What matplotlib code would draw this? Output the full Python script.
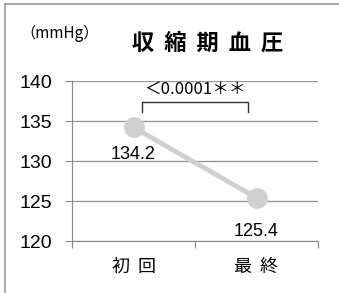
import matplotlib
matplotlib.use("Agg")
import matplotlib.pyplot as plt
from matplotlib.lines import Line2D

plt.rcParams['font.family'] = ['Noto Sans CJK JP', 'DejaVu Sans']

categories = ["初  回", "最  終"]
values = [134.2, 125.4]
yticks = [120, 125, 130, 135, 140]
title = "収  縮  期  血  圧"
unit = "（mmHg）"
pvalue = "＜0.0001＊＊"

num_font = ['Liberation Sans', 'DejaVu Sans']

fig = plt.figure(figsize=(3.39, 2.93), dpi=100)
ax = fig.add_axes([72/339, 1-241/293, 246/339, 160/293])

x = [0, 1]
ax.plot(x, values, color="#d0d0d0", lw=3.5, marker="o", ms=14, zorder=3)
ax.set_xlim(-0.5, 1.5)
ax.set_ylim(120, 140)
ax.set_yticks(yticks)
ax.set_yticklabels([str(v) for v in yticks], family=num_font, fontsize=14)
ax.set_xticks([-0.5, 0.5, 1.5], minor=False)
ax.set_xticklabels([])
ax.set_xticks(x, minor=True)
ax.set_xticklabels(categories, minor=True, fontsize=13)
ax.tick_params(axis="x", which="minor", length=0, pad=12)
ax.tick_params(axis="x", which="major", length=5, direction="out", color="#888888")
ax.tick_params(axis="y", length=5, color="#888888", pad=9)
ax.yaxis.grid(True, color="#999999", lw=1)
ax.set_axisbelow(True)
for s in ["top", "right"]:
    ax.spines[s].set_visible(False)
for s in ["left", "bottom"]:
    ax.spines[s].set_color("#888888")

ax.text(x[0], values[0] - 3.4, "%.1f" % values[0], ha="center", va="center",
        fontsize=13, family=num_font)
ax.text(x[1], values[1] - 4.2, "%.1f" % values[1], ha="center", va="center",
        fontsize=13, family=num_font)

# bracket
ax.plot([0.07, 0.07, 0.93, 0.93], [136.1, 137.4, 137.4, 136.1], color="#333333", lw=1.0, clip_on=False)
ax.text(0.5, 139.0, pvalue, ha="center", va="center", fontsize=12)

fig.text(208/339, 1-43/293, title, ha="center", va="center", fontsize=16, fontweight="bold")
fig.text(60/339, 1-33/293, unit, ha="center", va="center", fontsize=11)

# frame
fig.add_artist(Line2D([5/339, 5/339], [0, 1-4/293], color="#999999", lw=1.2))
fig.add_artist(Line2D([5/339, 1], [1-4/293, 1-4/293], color="#999999", lw=1.2))

fig.savefig("out.png", dpi=100)
